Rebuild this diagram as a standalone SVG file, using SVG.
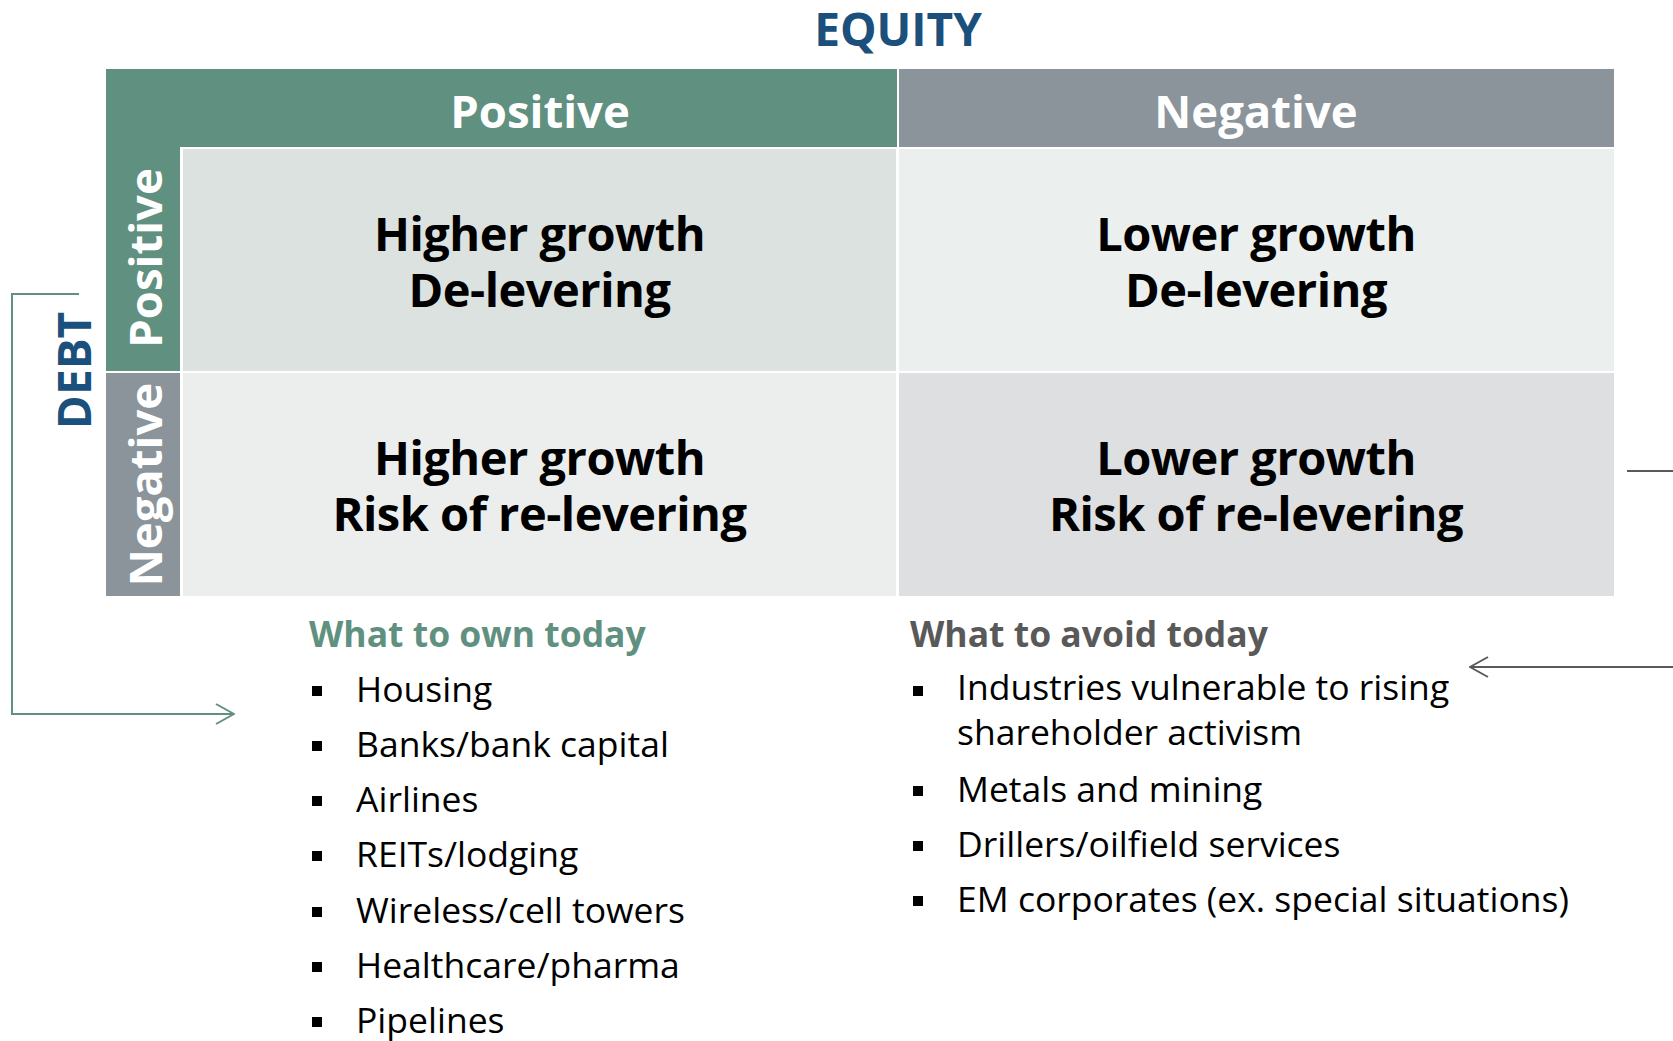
<svg xmlns="http://www.w3.org/2000/svg" width="1673" height="1041" viewBox="0 0 1673 1041">
  <defs>
    <style>
      .b { font-family: "Open Sans", "Noto Sans", "Liberation Sans", sans-serif; font-weight: 700; }
      .r { font-family: "Open Sans", "Noto Sans", "Liberation Sans", sans-serif; font-weight: 400; }
      .hdr { font-size: 45.5px; fill: #ffffff; text-anchor: middle; }
      .axis { font-size: 46px; fill: #1b4f7c; text-anchor: middle; }
      .quad { font-size: 47px; letter-spacing: -0.5px; fill: #000000; text-anchor: middle; }
      .lh { font-size: 35.5px; }
      .li { font-size: 35.5px; fill: #000000; }
      .green { fill: #5f9080; }
      .grey { fill: #8a949a; }
      .conn { fill: none; stroke-width: 2; }
    </style>
    <marker id="arrG" viewBox="0 0 20 22" refX="19" refY="11" markerWidth="20" markerHeight="22" markerUnits="userSpaceOnUse" orient="auto">
      <path d="M1,1 L19,11 L1,21" fill="none" stroke="#5f9080" stroke-width="2"/>
    </marker>
    <marker id="arrK" viewBox="0 0 20 22" refX="19" refY="11" markerWidth="20" markerHeight="22" markerUnits="userSpaceOnUse" orient="auto">
      <path d="M1,1 L19,11 L1,21" fill="none" stroke="#5a5a5a" stroke-width="2"/>
    </marker>
  </defs>

  <rect width="1673" height="1041" fill="#ffffff"/>

  <!-- axis titles -->
  <g id="equity-title">
    <text class="b axis" x="898" y="46">EQUITY</text>
  </g>
  <g id="debt-title">
    <text class="b axis" transform="translate(90.5,370.5) rotate(-90)">DEBT</text>
  </g>

  <!-- column headers -->
  <g id="equity-positive">
    <rect class="green" x="106" y="69" width="791" height="78"/>
    <text class="b hdr" x="540" y="128">Positive</text>
  </g>
  <g id="equity-negative">
    <rect class="grey" x="899" y="69" width="715" height="78"/>
    <text class="b hdr" x="1256" y="128">Negative</text>
  </g>

  <!-- row headers -->
  <g id="debt-positive">
    <rect class="green" x="106" y="146" width="74" height="225"/>
    <text class="b hdr" transform="translate(162,258) rotate(-90)">Positive</text>
  </g>
  <g id="debt-negative">
    <rect class="grey" x="106" y="373" width="74" height="223"/>
    <text class="b hdr" transform="translate(162,484.5) rotate(-90)">Negative</text>
  </g>

  <!-- quadrants -->
  <g id="q-higher-delever">
    <rect x="183" y="149" width="713" height="222" fill="#dce2df"/>
    <text class="b quad" x="539.5" y="251">Higher growth</text>
    <text class="b quad" x="539.5" y="307">De-levering</text>
  </g>
  <g id="q-lower-delever">
    <rect x="899" y="149" width="715" height="222" fill="#ebefed"/>
    <text class="b quad" x="1256" y="251">Lower growth</text>
    <text class="b quad" x="1256" y="307">De-levering</text>
  </g>
  <g id="q-higher-relever">
    <rect x="183" y="373" width="713" height="223" fill="#eceeed"/>
    <text class="b quad" x="539.5" y="475">Higher growth</text>
    <text class="b quad" x="539.5" y="531">Risk of re-levering</text>
  </g>
  <g id="q-lower-relever">
    <rect x="899" y="373" width="715" height="223" fill="#dddfe1"/>
    <text class="b quad" x="1256" y="475">Lower growth</text>
    <text class="b quad" x="1256" y="531">Risk of re-levering</text>
  </g>

  <!-- lists -->
  <g id="own-list">
    <text class="b lh" x="309" y="647" fill="#5f9080">What to own today</text>
    <g fill="#000000">
      <rect x="312" y="686" width="10" height="10"/>
      <rect x="312" y="741" width="10" height="10"/>
      <rect x="312" y="796" width="10" height="10"/>
      <rect x="312" y="851" width="10" height="10"/>
      <rect x="312" y="907" width="10" height="10"/>
      <rect x="312" y="962" width="10" height="10"/>
      <rect x="312" y="1017" width="10" height="10"/>
    </g>
    <text class="r li" x="356" y="702">Housing</text>
    <text class="r li" x="356" y="757">Banks/bank capital</text>
    <text class="r li" x="356" y="812">Airlines</text>
    <text class="r li" x="356" y="867">REITs/lodging</text>
    <text class="r li" x="356" y="923">Wireless/cell towers</text>
    <text class="r li" x="356" y="978">Healthcare/pharma</text>
    <text class="r li" x="356" y="1033">Pipelines</text>
  </g>
  <g id="avoid-list">
    <text class="b lh" x="910" y="647" fill="#595959">What to avoid today</text>
    <g fill="#000000">
      <rect x="913" y="686" width="10" height="10"/>
      <rect x="913" y="786" width="10" height="10"/>
      <rect x="913" y="841" width="10" height="10"/>
      <rect x="913" y="896" width="10" height="10"/>
    </g>
    <text class="r li" x="957" y="700">Industries vulnerable to rising</text>
    <text class="r li" x="957" y="745">shareholder activism</text>
    <text class="r li" x="957" y="802">Metals and mining</text>
    <text class="r li" x="957" y="857">Drillers/oilfield services</text>
    <text class="r li" x="957" y="912">EM corporates (ex. special situations)</text>
  </g>

  <!-- connectors -->
  <g id="connectors">
    <path class="conn" d="M79,294 H12 V714 H234" stroke="#5f9080" marker-end="url(#arrG)"/>
    <path class="conn" d="M1627,471 H1700 V667 H1470" stroke="#5a5a5a" marker-end="url(#arrK)"/>
  </g>
</svg>
